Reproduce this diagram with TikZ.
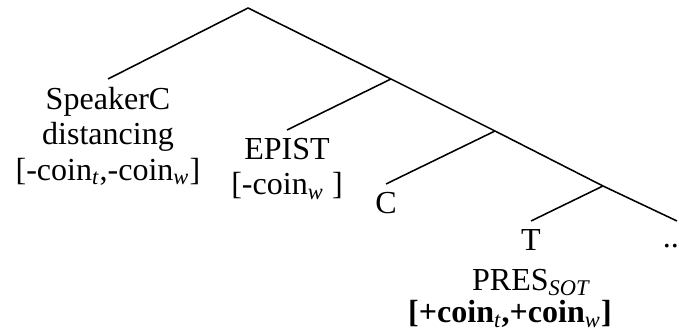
\documentclass[tikz,border=0pt]{standalone}
\usepackage{fontspec}
\setmainfont{Liberation Serif}
\usetikzlibrary{positioning}
\tikzset{
x=0.387pt, % one pixel of the sketch
y=-0.387pt, % y runs downwards, as in the sketch
branch/.style={line width=0.6pt}, % the tree's edges
leaf/.style={inner sep=0pt, align=center, font=\fontsize{12.4pt}{13.6pt}\selectfont}, % labels under the edges
node distance=3.1pt, % gap between an edge's end and its label
}
\newcommand{\subit}[1]{\textsubscript{\normalfont\itshape #1}}

\begin{document}
\begin{tikzpicture}
            \useasboundingbox (0,0) rectangle (679,332);
            % spine of the tree
            \coordinate (root) at (248,8);
            \coordinate (b1) at (391,79);
            \coordinate (b2) at (495,131);
            \coordinate (b3) at (603,186);
            \coordinate (rest) at (677,221);
            % ends of the left edges
            \coordinate (spkend) at (108,79);
            \coordinate (epiend) at (287,130);
            \coordinate (cend) at (386,184);
            \coordinate (tend) at (531,221);
            \node[leaf, below=of spkend] (spk) {SpeakerC\\distancing\\{[}-coin\subit{t},-coin\subit{w}]};
            \node[leaf, below=of epiend] (epist) {EPIST\\{[}-coin\subit{w} ]};
            \node[leaf, below=of cend] (c) {C};
            \node[leaf, below=of tend] (t) {T\\[2pt]PRES\subit{SOT}};
            \node[leaf, anchor=base] (tfeat) at (510,323) {\textbf{[+coin\subit{t},+coin\subit{w}]}};
            \node[leaf, anchor=base] (dots) at (671,248) {..};
            \draw[branch]
                (spkend) -- (root) -- (b1) -- (b2) -- (b3) -- (rest)
                (b1) -- (epiend)
                (b2) -- (cend)
                (b3) -- (tend)
            ;
        \end{tikzpicture}
\end{document}
